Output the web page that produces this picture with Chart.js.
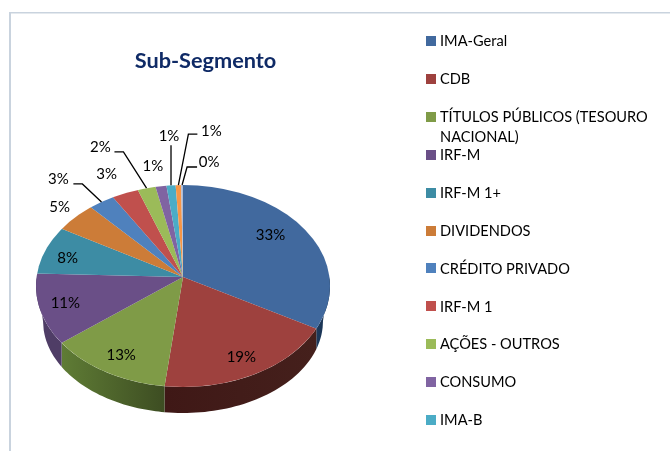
<!DOCTYPE html>
<html><head><meta charset="utf-8">
<script src="https://cdn.jsdelivr.net/npm/chart.js@4"></script>
<style>html,body{margin:0;padding:0;background:#fff}canvas{display:block}</style>
</head><body><canvas id="c" width="670" height="451"></canvas>
<script>
const categories = ['IMA-Geral','CDB','TÍTULOS PÚBLICOS (TESOURO NACIONAL)','IRF-M','IRF-M 1+','DIVIDENDOS','CRÉDITO PRIVADO','IRF-M 1','AÇÕES - OUTROS','CONSUMO','IMA-B','',''];
const shares = [32.6,19.4,13,10.6,8.4,5,3,3,2,1.2,1,0.6,0.2];
const chartTitle = 'Sub-Segmento';
const legendLines = {2:['TÍTULOS PÚBLICOS (TESOURO','NACIONAL)']};
const faceColors = ['#41699e','#9e413e','#7f9b47','#6a4f87','#3d8ca4','#cc7c38','#4f81bd','#c0504d','#9bbb59','#8064a2','#4bacc6','#f79646','#aabad7'];
const wallColors = {0:['#1e3a5c','#16304e'],1:['#3f1816','#45201c'],2:['#5f7c35','#3d4d22'],3:['#4f3d66','#4f3d66']};
// label offset from the slice's rim point
const labelOffsets = [[-38,6],[-10,-17],[13,-17],[23,-6],[25,8],[-13,-9],[-42,-22],[-18,-18],[-46,-41],[-8,-20],[-2,-49],[33,-54],[27,-23]];
// leader: elbow dx,dy and end dx from the rim point
const leaders = {6:[-18,-17,-27],8:[-23,-36,-32],10:[0,-40,0],11:[10,-51,19],12:[5,-18,15]};

const FONT = 'Lato, Carlito, Calibri, sans-serif';
const TOP_RY = 92, BOTTOM_RY = 110;           // foreshortening of the rays above / below the apex
const RIM_DY = 9, RIM_RY = 101;               // rim ellipse sits below the apex (perspective)
const WALL_RX = 140, WALL_DY = 44, WALL_RY = 92;

// where a ray from the apex leaves the rim ellipse, relative to the apex
function rim(angle,R){
  const sn=Math.sin(angle);
  const dx=Math.cos(angle), dy=sn*(sn<0?TOP_RY:BOTTOM_RY)/R;
  const A=dx*dx/(R*R)+dy*dy/(RIM_RY*RIM_RY), B=-2*dy*RIM_DY/(RIM_RY*RIM_RY), C=RIM_DY*RIM_DY/(RIM_RY*RIM_RY)-1;
  const t=(-B+Math.sqrt(B*B-4*A*C))/(2*A);
  return [dx*t,dy*t];
}

const pie3d = {
  id:'pie3d',
  beforeDraw(chart){
    const c = chart.ctx;
    c.save();
    c.fillStyle='#c9d3de';
    c.fillRect(9,12,2,439);
    c.fillRect(9,12,661,1.5);
    c.restore();
  },
  beforeDatasetsDraw(chart){
    const c = chart.ctx, arcs = chart.getDatasetMeta(0).data;
    const a0 = arcs[0], cx = a0.x, cy = a0.y, R = a0.outerRadius;
    // side wall: each rim point drops straight down to the lower ellipse
    arcs.forEach((a,i)=>{
      const s = Math.max(a.startAngle,0), e = Math.min(a.endAngle,Math.PI);
      if (e<=s || !wallColors[i]) return;
      const top=[], n=40;
      for(let k=0;k<=n;k++) top.push(rim(s+(e-s)*k/n,R));
      const g = c.createLinearGradient(cx+top[n][0],0,cx+top[0][0],0);
      g.addColorStop(0,wallColors[i][0]); g.addColorStop(1,wallColors[i][1]);
      c.beginPath();
      top.forEach((p,k)=>k?c.lineTo(cx+p[0],cy+p[1]):c.moveTo(cx+p[0],cy+p[1]));
      for(let k=n;k>=0;k--){
        const q=Math.max(-1,Math.min(1,top[k][0]/WALL_RX));
        c.lineTo(cx+q*WALL_RX,cy+WALL_DY+WALL_RY*Math.sqrt(1-q*q));
      }
      c.closePath();
      c.fillStyle=g; c.fill();
    });
    // top face, clipped to the rim ellipse
    c.save();
    c.beginPath(); c.ellipse(cx,cy+RIM_DY,R,RIM_RY,0,0,Math.PI*2); c.clip();
    const k=1.15;
    [[cy-R*2,R*2,TOP_RY],[cy,R*2,BOTTOM_RY]].forEach(([y,h,ry])=>{
      c.save();
      c.beginPath(); c.rect(0,y,chart.width,h); c.clip();
      c.translate(cx,cy); c.scale(k,k*ry/R); c.translate(-cx,-cy);
      arcs.forEach(a=>a.draw(c));
      c.restore();
    });
    c.restore();
    return false;
  },
  afterDraw(chart){
    const c = chart.ctx, arcs = chart.getDatasetMeta(0).data;
    const total = shares.reduce((p,v)=>p+v,0);
    c.save();
    c.fillStyle='#000'; c.strokeStyle='#000'; c.textBaseline='middle'; c.textAlign='center';
    c.font='15px '+FONT;
    arcs.forEach((a,i)=>{
      const m=(a.startAngle+a.endAngle)/2, sn=Math.sin(m);
      const px=a.x+a.outerRadius*Math.cos(m), py=a.y+(sn<0?TOP_RY:BOTTOM_RY)*sn;
      const L=leaders[i];
      if(L){
        const r=rim(m,a.outerRadius);
        c.beginPath(); c.lineWidth=1.3;
        c.moveTo(a.x+r[0],a.y+r[1]); c.lineTo(px+L[0],py+L[1]); c.lineTo(px+L[2],py+L[1]); c.stroke();
      }
      const o=labelOffsets[i];
      c.fillText(Math.round(shares[i]/total*100)+'%',px+o[0],py+o[1]);
    });
    // title
    c.fillStyle='#0f2a66'; c.font='bold 21.7px '+FONT;
    c.fillText(chartTitle,205.5,61);
    // legend
    c.textAlign='left'; c.font='14.6px '+FONT;
    categories.forEach((name,i)=>{
      if(!name) return;
      const y=41+i*37.9;
      c.fillStyle=faceColors[i]; c.fillRect(426,Math.round(y)-5,10,10);
      c.fillStyle='#000';
      (legendLines[i]||[name]).forEach((t,k)=>c.fillText(t,440,y+0.5+k*20));
    });
    c.restore();
  }
};

new Chart(document.getElementById('c'),{
  type:'pie',
  data:{labels:categories,datasets:[{data:shares,backgroundColor:faceColors,borderWidth:0}]},
  options:{
    responsive:false,animation:false,
    layout:{padding:{left:36,right:340,top:130,bottom:27}},
    plugins:{legend:{display:false},tooltip:{enabled:false},title:{display:false}}
  },
  plugins:[pie3d]
});
</script></body></html>
